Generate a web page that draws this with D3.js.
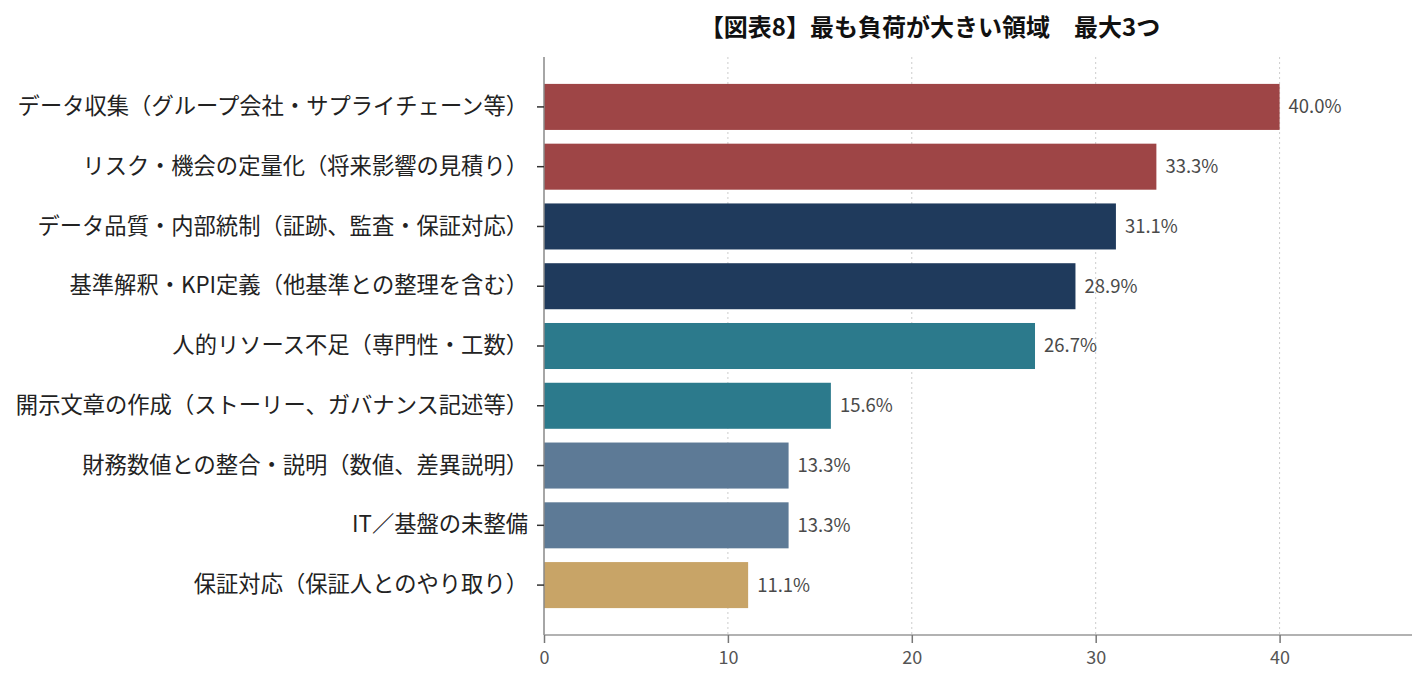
<!DOCTYPE html>
<html>
<head>
<meta charset="utf-8">
<script src="https://cdn.jsdelivr.net/npm/d3@7"></script>
<style>
  body { margin: 0; background: #fff; }
  svg { display: block; font-family: "Noto Sans CJK JP", "Noto Sans", sans-serif; }
</style>
</head>
<body>
<svg id="chart" width="1428" height="689"></svg>
<script>
// data
var categories = [
  "データ収集（グループ会社・サプライチェーン等）",
  "リスク・機会の定量化（将来影響の見積り）",
  "データ品質・内部統制（証跡、監査・保証対応）",
  "基準解釈・KPI定義（他基準との整理を含む）",
  "人的リソース不足（専門性・工数）",
  "開示文章の作成（ストーリー、ガバナンス記述等）",
  "財務数値との整合・説明（数値、差異説明）",
  "IT／基盤の未整備",
  "保証対応（保証人とのやり取り）"
];
var values = [40.0, 33.3, 31.1, 28.9, 26.7, 15.6, 13.3, 13.3, 11.1];
var groups = ["red", "red", "navy", "navy", "teal", "teal", "slate", "slate", "gold"];
var xTicks = [0, 10, 20, 30, 40];
var titleText = "【図表8】最も負荷が大きい領域　最大3つ";

var palette = {red: "#9e4546", navy: "#1f3a5c", teal: "#2c7a8c", slate: "#5d7a96", gold: "#c8a467"};

var svg = d3.select("#chart");
// note: "top" is taken by window.top, so plot edges get their own names
var plotLeft = 544, plotRight = 1412, plotTop = 57, plotBottom = 635;

var x = d3.scaleLinear().domain([0, 47.2]).range([plotLeft, plotRight]);
var y = d3.scaleBand().domain(categories).range([plotTop, plotBottom])
    .paddingInner(0.23).paddingOuter(0.45);

// grid
svg.append("g").selectAll("line")
  .data(xTicks.filter(function(d) { return d > 0; }))
  .enter().append("line")
  .attr("x1", function(d) { return x(d); })
  .attr("x2", function(d) { return x(d); })
  .attr("y1", plotTop).attr("y2", plotBottom)
  .attr("stroke", "#cccccc")
  .attr("stroke-width", 1)
  .attr("stroke-dasharray", "2,3");

// bars
svg.append("g").selectAll("rect")
  .data(values)
  .enter().append("rect")
  .attr("x", x(0))
  .attr("y", function(d, i) { return y(categories[i]); })
  .attr("width", function(d) { return x(d) - x(0); })
  .attr("height", y.bandwidth())
  .attr("fill", function(d, i) { return palette[groups[i]]; });

// value labels
svg.append("g").selectAll("text")
  .data(values)
  .enter().append("text")
  .attr("x", function(d) { return x(d) + 9; })
  .attr("y", function(d, i) { return y(categories[i]) + y.bandwidth() / 2; })
  .attr("dy", "0.35em")
  .attr("font-size", 18.5)
  .attr("fill", "#4a4a4a")
  .text(function(d) { return d.toFixed(1) + "%"; });

// axes
var yAxis = d3.axisLeft(y).tickSize(7).tickPadding(9);
var gy = svg.append("g").attr("transform", "translate(" + plotLeft + ",0)").call(yAxis);
gy.select(".domain").attr("stroke", "#888").attr("stroke-width", 1.5).attr("d", "M0," + plotTop + "V" + plotBottom);
gy.selectAll(".tick line").attr("stroke", "#333").attr("stroke-width", 1.5);
gy.selectAll(".tick text").attr("font-size", 22.3).attr("fill", "#222")
  .style("font-family", '"Noto Sans CJK JP", sans-serif');

var xAxis = d3.axisBottom(x).tickValues(xTicks).tickSize(8).tickPadding(8);
var gx = svg.append("g").attr("transform", "translate(0," + plotBottom + ")").call(xAxis);
gx.select(".domain").attr("stroke", "#999").attr("stroke-width", 1.5).attr("d", "M" + plotLeft + ",0H" + plotRight);
gx.selectAll(".tick line").attr("stroke", "#777").attr("stroke-width", 1.5);
gx.selectAll(".tick text").attr("font-size", 18).attr("fill", "#555")
  .style("font-family", '"Noto Sans CJK JP", sans-serif');

// title
svg.append("text")
  .attr("x", 930).attr("y", 36)
  .attr("text-anchor", "middle")
  .attr("font-size", 24)
  .attr("font-weight", "bold")
  .attr("fill", "#111")
  .text(titleText);
</script>
</body>
</html>
